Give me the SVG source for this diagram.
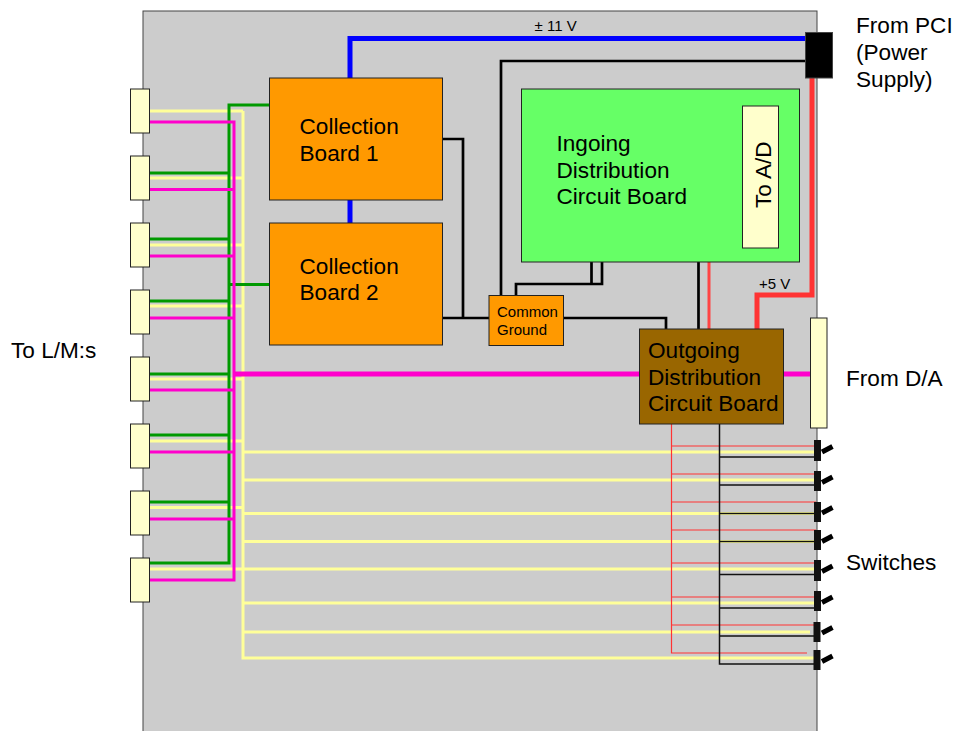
<svg xmlns="http://www.w3.org/2000/svg" width="956" height="731" viewBox="0 0 956 731">
<style>
text{font-family:"Liberation Sans",Arial,sans-serif;fill:#000}
.l{font-size:22.6px}.s{font-size:15px}
.box{stroke:#222;stroke-width:1}
.cream{fill:#ffffcc}.orange{fill:#ff9900}
path,line{fill:none}
.g{stroke:#009900;stroke-width:3}
.m{stroke:#ff00cc;stroke-width:3}
.y{stroke:#ffff99;stroke-width:3}
.k{stroke:#000;stroke-width:2.700}
.kt{stroke:#111;stroke-width:1.500}
.rt{stroke:#ff3333;stroke-width:1.200}
.lever{stroke:#000;stroke-width:5}
</style>
<rect id="panel" x="143" y="11" width="674" height="725" fill="#cccccc" stroke="#444" stroke-width="1"/>
<g id="connectors">
<path class="y" d="M150 111H243M150 178H243M150 245H243M150 306H243M150 379H243M150 441H243M150 507.500H243"/>
<path class="y" d="M243 111V658H815M243 452H814M243 480H814M243 513.500H814M243 541.500H814M150 569H814M243 603H814M243 632H810"/>
<path class="g" d="M150 173H229M150 239H229M150 301H229M150 374H229M150 435H229M150 502H229M150 563H229V105H269M229 284.500H269"/>
<path class="m" d="M150 122H234V580H150M150 189.500H234M150 256H234M150 318H234M150 390H234M150 452H234M150 519H234"/>
<line x1="234" y1="374" x2="811" y2="374" stroke="#ff00cc" stroke-width="5"/>
<path d="M350 78V38.500H806M350 200V223" stroke="#0000ff" stroke-width="5" fill="none"/>
<path class="k" d="M805 61H501V296M442 139H463V318M442 318H489M563 318H666V329M516 296V284H602V262M591.500 262V284M698.500 262V329"/>
<path d="M709 262V329" stroke="#ff4444" stroke-width="3" fill="none"/>
<path d="M812 78V295H757V329" stroke="#ff3333" stroke-width="5" fill="none"/>
<path class="rt" d="M671.500 424V653H807M671.500 446H816M671.500 474H816M671.500 502H816M671.500 530H816M671.500 563H816M671.500 597H816M671.500 625H816"/>
<path class="kt" d="M719.500 424V664H815M719.500 457H815M719.500 485H815M719.500 513.500H815M719.500 541.500H815M719.500 574.500H815M719.500 608H815M719.500 636H815"/>
</g>
<g id="lm-connectors">
<rect class="box cream" x="130.500" y="89" width="19" height="44"/>
<rect class="box cream" x="130.500" y="156" width="19" height="44"/>
<rect class="box cream" x="130.500" y="223" width="19" height="44"/>
<rect class="box cream" x="130.500" y="290" width="19" height="44"/>
<rect class="box cream" x="130.500" y="357" width="19" height="44"/>
<rect class="box cream" x="130.500" y="424" width="19" height="44"/>
<rect class="box cream" x="130.500" y="491" width="19" height="44"/>
<rect class="box cream" x="130.500" y="558" width="19" height="44"/>
</g>
<g id="collection-1"><rect class="box orange" x="269.500" y="78" width="173" height="122"/>
<text class="l" x="299.500" y="134">Collection</text><text class="l" x="299.500" y="161">Board 1</text></g>
<g id="collection-2"><rect class="box orange" x="269.500" y="223" width="173" height="122"/>
<text class="l" x="299.500" y="274">Collection</text><text class="l" x="299.500" y="300">Board 2</text></g>
<g id="ingoing"><rect class="box" fill="#66ff66" x="521.500" y="89" width="278" height="173"/>
<text class="l" x="556.500" y="151">Ingoing</text><text class="l" x="556.500" y="178">Distribution</text><text class="l" x="556.500" y="204">Circuit Board</text></g>
<g id="to-ad"><rect class="box cream" x="742.500" y="106" width="36" height="142"/>
<text class="l" transform="translate(771 208) rotate(-90)">To A/D</text></g>
<g id="common-ground"><rect class="box orange" x="489" y="295.500" width="74.500" height="50"/>
<text class="s" x="497" y="317">Common</text><text class="s" x="497" y="335">Ground</text></g>
<g id="outgoing"><rect class="box" fill="#996600" x="639.500" y="329" width="144" height="95"/>
<text class="l" x="648" y="358">Outgoing</text><text class="l" x="648" y="385">Distribution</text><text class="l" x="648" y="411">Circuit Board</text></g>
<g id="from-da"><rect class="box cream" x="810.500" y="318" width="16.500" height="110"/></g>
<g id="pci-connector"><rect x="805.500" y="32.500" width="27" height="45.500" fill="#000" stroke="#444" stroke-width="1"/></g>
<g id="switches" fill="#111">
<rect x="814" y="440" width="7" height="21"/><rect x="814" y="471" width="7" height="20"/><rect x="814" y="502" width="7" height="20"/><rect x="814" y="530" width="7" height="20"/><rect x="814" y="560" width="7" height="21"/><rect x="814" y="591" width="7" height="20"/><rect x="813.500" y="622" width="7" height="20"/><rect x="813.500" y="650" width="7" height="20"/>
<path class="lever" d="M822 452L832.500 446.500M822 482.500L832.500 477M822 513L832.500 507.500M822 541.500L832.500 536M822 571.500L832.500 566M822 602.500L832.500 597M822 633L832.500 627.500M822 661.500L832.500 656"/>
</g>
<g id="labels">
<text class="s" x="534.500" y="31">± 11 V</text>
<text class="s" x="759" y="289">+5 V</text>
<text class="l" x="11" y="358">To L/M:s</text>
<text class="l" x="846" y="386">From D/A</text>
<text class="l" x="846" y="570">Switches</text>
<text class="l" x="856" y="33">From PCI</text>
<text class="l" x="856" y="60">(Power</text>
<text class="l" x="856" y="87">Supply)</text>
</g>
</svg>
